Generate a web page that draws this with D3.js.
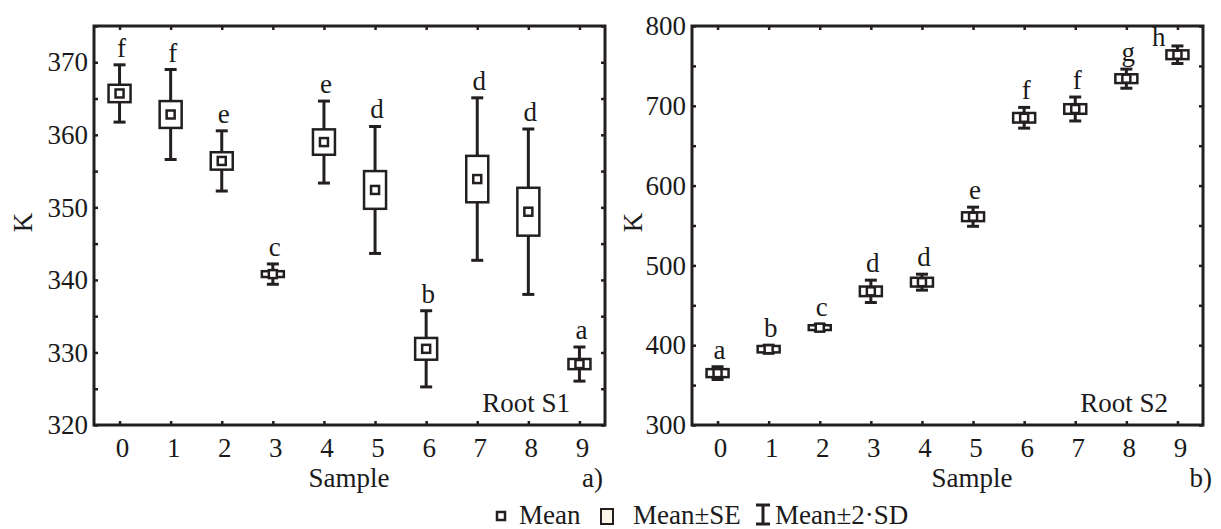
<!DOCTYPE html>
<html>
<head>
<meta charset="utf-8">
<script src="https://cdn.jsdelivr.net/npm/d3@7"></script>
<style>
  body { margin: 0; background: #fff; }
</style>
</head>
<body>
<svg id="chart" width="1221" height="529"></svg>
<script>
const samples = [0, 1, 2, 3, 4, 5, 6, 7, 8, 9];

// Root S1: mean, standard error, 2*SD
const s1Mean = [365.7, 362.8, 356.4, 340.8, 359.0, 352.4, 330.5, 353.9, 349.4, 328.4];
const s1SE   = [1.2, 1.85, 1.2, 0.4, 1.75, 2.6, 1.5, 3.2, 3.3, 0.7];
const s1SD2  = [3.95, 6.2, 4.15, 1.4, 5.65, 8.75, 5.25, 11.2, 11.4, 2.35];
const s1Letters = ["f", "f", "e", "c", "e", "d", "b", "d", "d", "a"];

// Root S2
const s2Mean = [365, 395, 422, 467.5, 479, 561, 685, 696, 734, 764];
const s2SE   = [5, 4, 3, 6, 5.5, 5.5, 6, 6, 5.5, 5.5];
const s2SD2  = [8, 5, 4, 14, 10, 12, 13, 15, 12, 11];
const s2Letters = ["a", "b", "c", "d", "d", "e", "f", "f", "g", "h"];

const s1Ticks = d3.range(320, 376, 5);
const s2Ticks = d3.range(300, 801, 50);

const ink = "#231f20";
const fontSize = 27;
const serif = "'Liberation Serif', 'Times New Roman', serif";
const svg = d3.select("#chart");

function panel(opt) {
  const top = 26, bottom = 425;
  const x = d3.scaleLinear().domain([-0.5, 9.5]).range([opt.x0, opt.x1]);
  const y = d3.scaleLinear().domain(opt.domain).range([bottom, top]);
  const g = svg.append("g");

  // inward ticks on all four sides
  const ax = [
    d3.axisLeft(y).tickValues(opt.ticks).tickSize(-4).tickPadding(6)
      .tickFormat(d => d % opt.major === 0 ? d : ""),
    d3.axisRight(y).tickValues(opt.ticks).tickSize(-4).tickFormat(""),
    d3.axisBottom(x).tickValues(samples).tickSize(-4).tickFormat(""),
    d3.axisTop(x).tickValues(samples).tickSize(-4).tickFormat("")
  ];
  const pos = [`translate(${opt.x0},0)`, `translate(${opt.x1},0)`,
               `translate(0,${bottom})`, `translate(0,${top})`];
  ax.forEach((a, i) => {
    const ag = g.append("g").attr("transform", pos[i]).call(a);
    ag.select(".domain").remove();
    ag.selectAll("line").attr("stroke", ink).attr("stroke-width", 2.5);
    ag.selectAll("text").style("font-size", fontSize + "px").attr("fill", "#1a1a1a");
  });

  g.append("rect")
    .attr("x", opt.x0).attr("y", top)
    .attr("width", opt.x1 - opt.x0).attr("height", bottom - top)
    .attr("fill", "none").attr("stroke", ink).attr("stroke-width", 3);

  // sample labels
  g.selectAll(".xl").data(samples).enter().append("text")
    .attr("x", d => x(d) + 3).attr("y", 457)
    .attr("text-anchor", "middle").style("font-size", fontSize + "px")
    .text(d => d);

  const rows = samples.map((s, i) => ({
    s, m: opt.mean[i], se: opt.se[i], sd: opt.sd[i], letter: opt.letters[i]
  }));

  const marks = g.selectAll(".mark").data(rows).enter().append("g");

  // whiskers (mean +- 2 SD)
  marks.append("line")
    .attr("x1", d => x(d.s)).attr("x2", d => x(d.s))
    .attr("y1", d => y(d.m + d.sd)).attr("y2", d => y(d.m - d.sd))
    .attr("stroke", ink).attr("stroke-width", 3);
  [1, -1].forEach(k => {
    marks.append("line")
      .attr("x1", d => x(d.s) - 6).attr("x2", d => x(d.s) + 6)
      .attr("y1", d => y(d.m + k * d.sd)).attr("y2", d => y(d.m + k * d.sd))
      .attr("stroke", ink).attr("stroke-width", 3);
  });

  // SE boxes
  marks.append("rect")
    .attr("x", d => x(d.s) - 11).attr("width", 22)
    .attr("y", d => y(d.m + d.se)).attr("height", d => y(d.m - d.se) - y(d.m + d.se))
    .attr("fill", "#fff").attr("stroke", ink).attr("stroke-width", 2.5);

  // mean
  marks.append("rect")
    .attr("x", d => x(d.s) - 4).attr("y", d => y(d.m) - 4)
    .attr("width", 8).attr("height", 8)
    .attr("fill", "#fff").attr("stroke", ink).attr("stroke-width", 2.5);

  // significance letters
  marks.append("text")
    .style("font-size", fontSize + "px")
    .each(function (d) {
      const t = d3.select(this);
      const yt = y(d.m + d.sd);
      if (yt - 8 - 19 < top + 2) {
        t.attr("x", x(d.s) - 12).attr("y", yt).attr("text-anchor", "end");
      } else {
        t.attr("x", x(d.s) + 2).attr("y", yt - 8).attr("text-anchor", "middle");
      }
    })
    .text(d => d.letter);

  // titles
  g.append("text")
    .attr("transform", `translate(${opt.kx},${(top + bottom) / 2 - 3}) rotate(-90)`)
    .attr("text-anchor", "middle").attr("dy", "0.35em")
    .style("font-size", fontSize + "px").text("K");
  g.append("text")
    .attr("x", opt.sampleX).attr("y", 487).attr("text-anchor", "middle")
    .style("font-size", fontSize + "px").text("Sample");
  g.append("text")
    .attr("x", opt.tagX).attr("y", 487).attr("text-anchor", "end")
    .style("font-size", fontSize + "px").text(opt.tag);
  g.append("text")
    .attr("x", opt.x1 - 35).attr("y", 412).attr("text-anchor", "end")
    .style("font-size", fontSize + "px").text(opt.name);
}

panel({
  x0: 94, x1: 605, domain: [320, 375], ticks: s1Ticks, major: 10,
  mean: s1Mean, se: s1SE, sd: s1SD2, letters: s1Letters,
  kx: 23, sampleX: 349, tagX: 603, tag: "a)", name: "Root S1"
});
panel({
  x0: 692, x1: 1203, domain: [300, 800], ticks: s2Ticks, major: 100,
  mean: s2Mean, se: s2SE, sd: s2SD2, letters: s2Letters,
  kx: 633, sampleX: 972, tagX: 1212, tag: "b)", name: "Root S2"
});

// legend
const lg = svg.append("g");
lg.append("rect").attr("x", 497).attr("y", 512).attr("width", 8).attr("height", 8)
  .attr("fill", "#fff").attr("stroke", ink).attr("stroke-width", 2.5);
lg.append("text").attr("x", 519).attr("y", 524).style("font-size", fontSize + "px").text("Mean");
lg.append("rect").attr("x", 601).attr("y", 509).attr("width", 12).attr("height", 15)
  .attr("fill", "#fcf6e8").attr("stroke", ink).attr("stroke-width", 2);
lg.append("text").attr("x", 633).attr("y", 524).style("font-size", fontSize + "px").text("Mean±SE");
lg.append("line").attr("x1", 763).attr("x2", 763).attr("y1", 505).attr("y2", 524)
  .attr("stroke", ink).attr("stroke-width", 3);
[505, 524].forEach(yy => {
  lg.append("line").attr("x1", 756).attr("x2", 770).attr("y1", yy).attr("y2", yy)
    .attr("stroke", ink).attr("stroke-width", 3);
});
lg.append("text").attr("x", 775).attr("y", 524).style("font-size", fontSize + "px").text("Mean±2·SD");

// serif everywhere, like the original figure
svg.selectAll("text").style("font-family", serif).attr("fill", "#1a1a1a");
</script>
</body>
</html>
